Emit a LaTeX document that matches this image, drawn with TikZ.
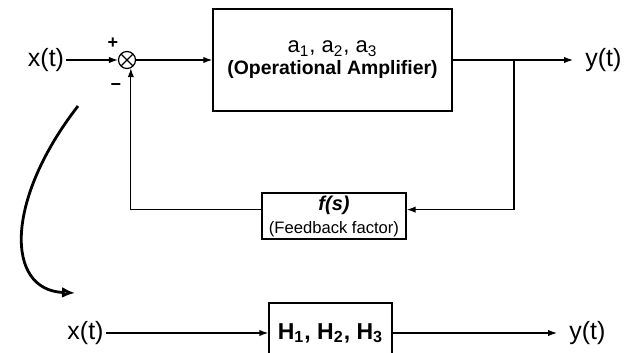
\documentclass[tikz,border=0pt]{standalone}
\usepackage{fontspec}
\setmainfont{Liberation Sans}
\usetikzlibrary{arrows.meta, positioning, calc}

\begin{document}
\begin{tikzpicture}[
  x=0.5pt, y=-0.5pt,
  every node/.style={font=\fontsize{12.5}{14}\selectfont},
  signal/.style={inner sep=1pt},
  block/.style={draw, line width=0.7pt, inner sep=1pt, align=center},
  summer/.style={draw, circle, line width=0.6pt, minimum size=8.5pt, inner sep=0pt,
                 path picture={\draw[line width=0.6pt]
                   (path picture bounding box.north west) -- (path picture bounding box.south east)
                   (path picture bounding box.south west) -- (path picture bounding box.north east);}},
  sign/.style={font=\fontsize{9}{10}\selectfont\bfseries, inner sep=0pt},
  arrow/.style={-{Latex[length=4.5pt, width=3.2pt]}, line width=0.6pt},
  swoop/.style={-{Latex[length=6.5pt, width=5.5pt, fill=gray]}, line width=1.4pt}
]
\useasboundingbox (0,0) rectangle (628,353);
\node[signal] (xin) at (46,60) {x(t)};
\node[summer] (sum) at (127,60) {};
\node[sign] (plus) at (113,43) {+};
\node[sign] (minus) at (116,87) {−};
\node[block, minimum width=119.5pt, minimum height=51pt, font=\fontsize{9.7}{11}\selectfont] (amp) at (332.5,60)
  {{\fontsize{11}{11}\selectfont a\textsubscript{1}, a\textsubscript{2}, a\textsubscript{3}}\\ \textbf{(Operational Amplifier)}};
\node[signal, inner xsep=6pt, anchor=west] (yout) at (573,60) {y(t)};
\coordinate (br) at (514,60);
\node[block, minimum width=72pt, minimum height=23pt, font=\fontsize{8.3}{11.5}\selectfont] (fb) at (334,216)
  {{\fontsize{10}{11.5}\selectfont\bfseries\itshape f(s)}\\ (Feedback factor)};
\coordinate (curvetop) at (78,106);
\coordinate (curveend) at (75,293);
\node[signal] (xbot) at (85.5,333) {x(t)};
\node[block, minimum width=61.5pt, minimum height=30pt, font=\fontsize{11.5}{12}\selectfont\bfseries] (hblk) at (330.5,333)
  {H\textsubscript{1}, H\textsubscript{2}, H\textsubscript{3}};
\node[signal, inner xsep=6pt, anchor=west] (ybot) at (557,333) {y(t)};
\draw[arrow] (xin) -- (sum);
\draw[arrow] (sum) -- (amp);
\draw[arrow] (amp) -- (yout);
\draw[arrow] (br) |- (fb.5);
\draw[arrow] (fb.175) -| (sum.-65);
\draw[swoop] (curvetop) .. controls (5,200) and (5,290) .. (curveend);
\draw[arrow] (xbot) -- (hblk);
\draw[arrow] (hblk) -- (ybot);
\end{tikzpicture}
\end{document}
